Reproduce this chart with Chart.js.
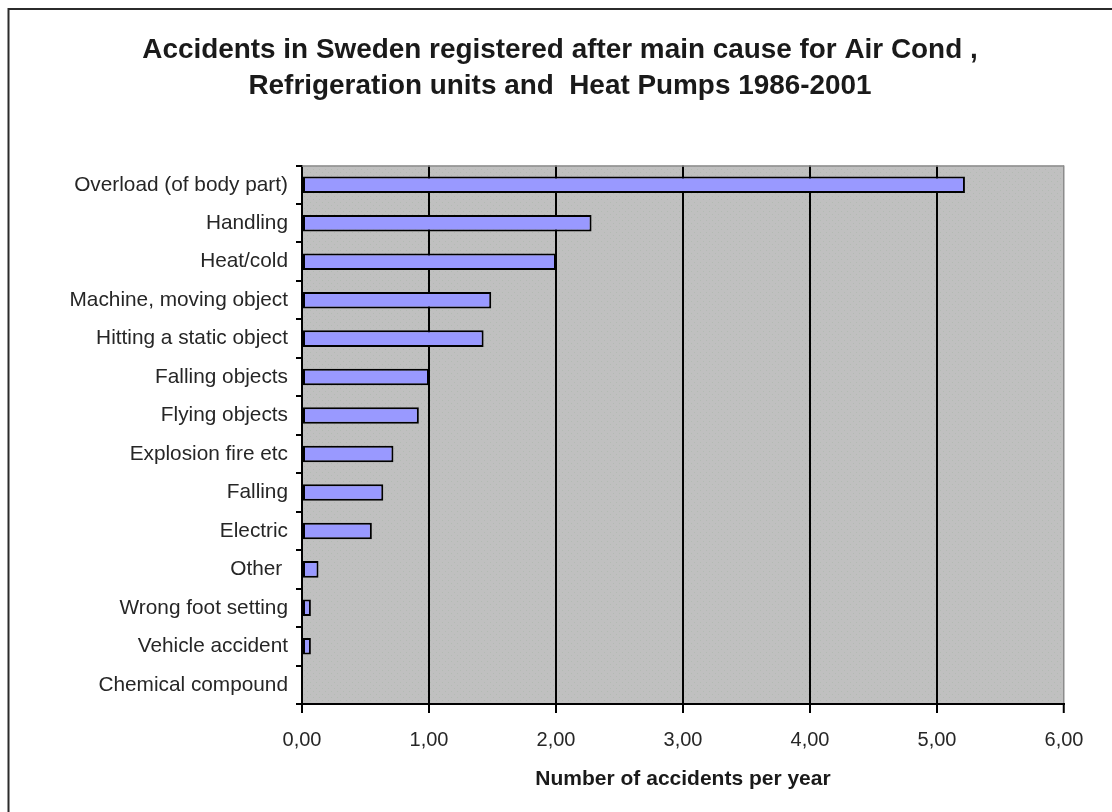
<!DOCTYPE html>
<html>
<head>
<meta charset="utf-8">
<script src="https://cdn.jsdelivr.net/npm/chart.js@4"></script>
<style>
  html, body { margin: 0; padding: 0; background: #ffffff; }
  canvas { display: block; }
</style>
</head>
<body>
<canvas id="chart" width="1112" height="812"></canvas>
<script>
// Main causes of accidents, top to bottom
const causes = [
  'Overload (of body part)',
  'Handling',
  'Heat/cold',
  'Machine, moving object',
  'Hitting a static object',
  'Falling objects',
  'Flying objects',
  'Explosion fire etc',
  'Falling',
  'Electric',
  'Other ',
  'Wrong foot setting',
  'Vehicle accident',
  'Chemical compound'
];

// Accidents per year for each cause
const accidentsPerYear = [5.22, 2.28, 2.00, 1.49, 1.43, 1.00, 0.92, 0.72, 0.64, 0.55, 0.13, 0.07, 0.07, 0.00];

const titleLines = [
  'Accidents in Sweden registered after main cause for Air Cond ,',
  'Refrigeration units and  Heat Pumps 1986-2001'
];
const xAxisTitle = 'Number of accidents per year';
const xMin = 0, xMax = 6, xStep = 1;

const FONT = "'Liberation Sans', Arial, Helvetica, sans-serif";

// Light grey plot fill with a faint dotted texture
function makePlotPattern(ctx) {
  const c = document.createElement('canvas');
  c.width = 6; c.height = 6;
  const g = c.getContext('2d');
  g.fillStyle = '#c0c0c0';
  g.fillRect(0, 0, 6, 6);
  g.fillStyle = '#b3bab3';
  g.fillRect(1, 1, 1, 1);
  g.fillRect(4, 4, 1, 1);
  return ctx.createPattern(c, 'repeat');
}

const frameAndPlot = {
  id: 'frameAndPlot',
  beforeDraw(chart) {
    const { ctx, chartArea: a } = chart;
    ctx.save();
    ctx.fillStyle = '#ffffff';
    ctx.fillRect(0, 0, chart.width, chart.height);
    // outer frame
    ctx.strokeStyle = '#2b2b2b';
    ctx.lineWidth = 2;
    ctx.strokeRect(8.5, 9, chart.width + 20, chart.height + 20);
    // plot area
    ctx.fillStyle = makePlotPattern(ctx);
    ctx.fillRect(a.left, a.top, a.right - a.left, a.bottom - a.top);
    ctx.restore();
  },
  beforeDatasetsDraw(chart) {
    const { ctx, chartArea: a } = chart;
    ctx.save();
    ctx.strokeStyle = '#8c8c8c';
    ctx.lineWidth = 1.5;
    ctx.beginPath();
    ctx.moveTo(a.left, a.top + 0.5);
    ctx.lineTo(a.right, a.top + 0.5);
    ctx.stroke();
    ctx.restore();
  }
};

new Chart(document.getElementById('chart'), {
  type: 'bar',
  data: {
    labels: causes,
    datasets: [{
      data: accidentsPerYear,
      backgroundColor: '#9999ff',
      borderColor: '#000000',
      borderWidth: 2,
      borderSkipped: false,
      barPercentage: 0.43,
      categoryPercentage: 1.0
    }]
  },
  options: {
    indexAxis: 'y',
    responsive: false,
    animation: false,
    layout: { padding: { left: 8, right: 0, top: 0, bottom: 0 } },
    plugins: {
      legend: { display: false },
      tooltip: { enabled: false },
      title: {
        display: true,
        text: titleLines,
        color: '#1a1a1a',
        font: { family: FONT, size: 27.9, weight: 'bold', lineHeight: 1.3 },
        padding: { top: 32, bottom: 61 }
      }
    },
    scales: {
      x: {
        type: 'linear',
        position: 'bottom',
        min: xMin,
        max: xMax,
        afterFit(scale) { scale.height = 108; },
        ticks: {
          stepSize: xStep,
          color: '#262626',
          padding: 15,
          font: { family: FONT, size: 20 },
          callback: v => v.toFixed(2).replace('.', ',')
        },
        grid: {
          color: c => (c.tick && c.tick.value === xMax) ? '#8c8c8c' : '#000000',
          lineWidth: c => (c.tick && c.tick.value === xMax) ? 1.5 : 2,
          tickColor: '#000000',
          tickWidth: 2,
          tickLength: 9
        },
        border: { display: true, color: '#000000', width: 2 },
        title: {
          display: true,
          text: xAxisTitle,
          color: '#1a1a1a',
          font: { family: FONT, size: 21, weight: 'bold', lineHeight: 1.2 },
          padding: { top: 0, bottom: 20 }
        }
      },
      y: {
        type: 'category',
        position: 'left',
        afterFit(scale) { scale.width = 294; },
        ticks: {
          color: '#262626',
          padding: 8,
          font: { family: FONT, size: 20.8 }
        },
        grid: {
          offset: true,
          drawOnChartArea: false,
          color: '#000000',
          lineWidth: 2,
          tickLength: 6
        },
        border: { display: true, color: '#000000', width: 2 }
      },
      yRight: {
        type: 'linear',
        axis: 'y',
        position: 'right',
        display: true,
        afterFit(scale) { scale.width = 48; },
        ticks: { display: false },
        grid: { display: false, drawTicks: false },
        border: { display: false }
      }
    }
  },
  plugins: [frameAndPlot]
});
</script>
</body>
</html>
